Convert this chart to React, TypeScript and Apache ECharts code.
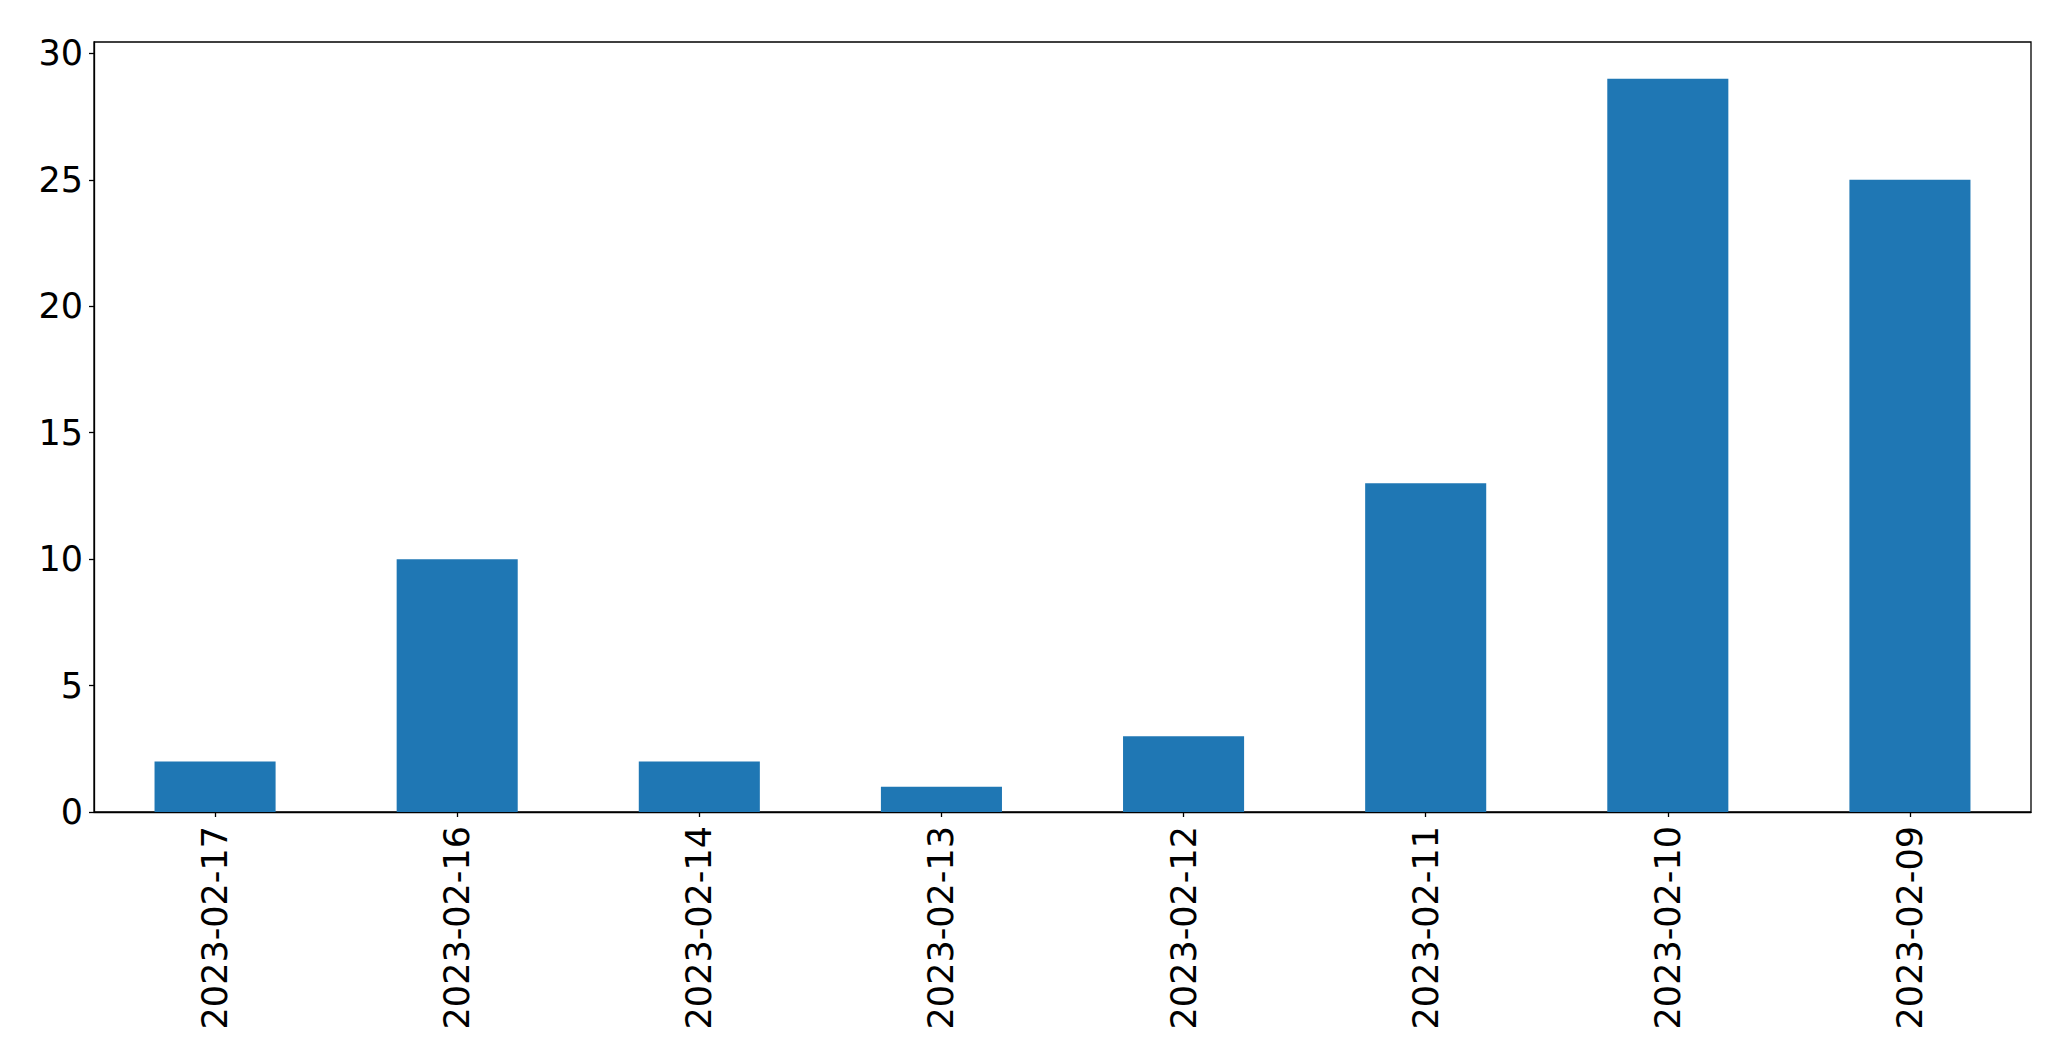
import React, { useEffect, useRef } from "react";
import * as echarts from "echarts";

const categories = ["2023-02-17", "2023-02-16", "2023-02-14", "2023-02-13", "2023-02-12", "2023-02-11", "2023-02-10", "2023-02-09"];
const counts = [2, 10, 2, 1, 3, 13, 29, 25];
const yTicks = [0, 5, 10, 15, 20, 25, 30];
const yMax = 30.45;

export default function App() {
  const ref = useRef<HTMLDivElement>(null);
  useEffect(() => {
    document.body.style.margin = "0";
    const chart = echarts.init(ref.current!, null, { renderer: "svg" });
    const font = "DejaVu Sans";
    chart.setOption({
      animation: false,
      backgroundColor: "#ffffff",
      grid: {
        left: 94,
        top: 42,
        width: 1937,
        height: 770,
        show: true,
        borderColor: "#000000",
        borderWidth: 1.3,
        backgroundColor: "transparent",
      },
      xAxis: {
        type: "category",
        data: categories,
        boundaryGap: true,
        axisLine: { show: true, lineStyle: { color: "#000", width: 1.3 } },
        axisTick: { show: true, alignWithLabel: true, length: 5, lineStyle: { color: "#000", width: 1.3 } },
        axisLabel: { rotate: 90, margin: 14, color: "#000", fontSize: 35, fontFamily: font, interval: 0 },
        splitLine: { show: false },
      },
      yAxis: {
        type: "value",
        min: 0,
        max: yMax,
        interval: 5,
        axisLine: { show: true, lineStyle: { color: "#000", width: 1.3 } },
        axisTick: { show: true, length: 5, lineStyle: { color: "#000", width: 1.3 }, customValues: yTicks },
        axisLabel: { margin: 11, color: "#000", fontSize: 35, fontFamily: font, customValues: yTicks },
        splitLine: { show: false },
      },
      series: [
        {
          type: "bar",
          data: counts,
          barWidth: "50%",
          itemStyle: { color: "#1f77b4" },
        },
      ],
    });
    return () => chart.dispose();
  }, []);
  return <div ref={ref} style={{ width: 2071, height: 1064 }} />;
}
